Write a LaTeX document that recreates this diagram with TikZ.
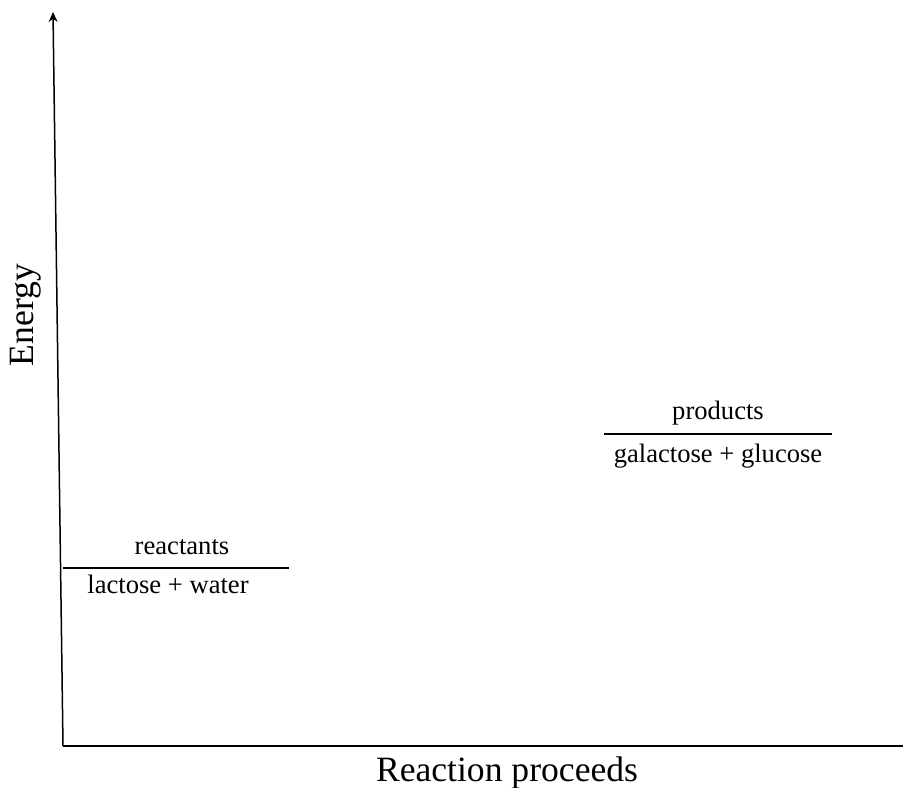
\documentclass[tikz,border=0pt]{standalone}
\usepackage{fontspec}
\setmainfont{Liberation Serif}
\usetikzlibrary{arrows.meta}

\begin{document}
\begin{tikzpicture}[x=0.5pt,y=-0.5pt,
  level/.style={line width=1.4pt},
  lab/.style={font=\fontsize{13.3}{15}\selectfont, anchor=base, inner sep=0pt},
  axlab/.style={font=\fontsize{17.8}{20}\selectfont, anchor=base, inner sep=0pt}]
\useasboundingbox (0,0) rectangle (903,787);
% axes
\coordinate (o) at (63,746);
\coordinate (ytop) at (53,12);
\coordinate (xend) at (903,746);
\draw[line width=0.75pt, -{Stealth[length=5pt,width=4.5pt]}] (o) -- (ytop);
\draw[line width=0.75pt] (o) -- (xend);
\node[axlab, rotate=90] (energy) at (33,315) {Energy};
\node[axlab] (proceeds) at (507,781) {Reaction proceeds};
% reactants level
\coordinate (r1) at (63,568);
\coordinate (r2) at (289,568);
\draw[level] (r1) -- (r2);
\node[lab] (reac) at (182,554) {reactants};
\node[lab] (lw) at (168,593) {lactose + water};
% products level
\coordinate (p1) at (604,434);
\coordinate (p2) at (832,434);
\draw[level] (p1) -- (p2);
\node[lab] (prod) at (718,419) {products};
\node[lab] (gg) at (718,462) {galactose + glucose};
\end{tikzpicture}
\end{document}
